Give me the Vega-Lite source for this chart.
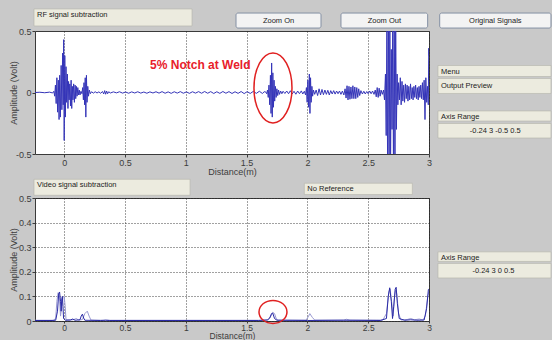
{
  "$schema": "https://vega.github.io/schema/vega-lite/v6.json",
  "background": "#c9c9c9",
  "padding": {"left": 8, "top": 8, "right": 0, "bottom": 0},
  "bounds": "flush",
  "spacing": 44,
  "config": {
    "font": "Liberation Sans",
    "view": {"fill": "white", "stroke": "#3a3a3a", "strokeWidth": 1},
    "axis": {
      "labelFont": "Liberation Sans", "labelFontSize": 9, "labelColor": "#3c3c3c",
      "titleFont": "Liberation Sans", "titleFontSize": 9, "titleFontWeight": "normal", "titleColor": "#3c3c3c",
      "domain": false, "tickColor": "#3c3c3c", "tickSize": 3, "labelPadding": 1,
      "gridColor": "#222222", "gridDash": [1, 2], "gridOpacity": 0.85
    }
  },
  "datasets": {
    "rf": [
      {"x": -0.24, "y": 0}, {"x": -0.2, "y": 0.002}, {"x": -0.16, "y": -0.002}, {"x": -0.12, "y": 0.003}, {"x": -0.095, "y": -0.004}, {"x": -0.085, "y": 0.01},
      {"x": -0.078, "y": -0.03}, {"x": -0.072, "y": 0.06}, {"x": -0.066, "y": -0.09}, {"x": -0.06, "y": 0.12}, {"x": -0.054, "y": -0.16}, {"x": -0.048, "y": 0.1},
      {"x": -0.042, "y": -0.22}, {"x": -0.037, "y": 0.14}, {"x": -0.031, "y": -0.2}, {"x": -0.025, "y": 0.22}, {"x": -0.019, "y": -0.14}, {"x": -0.013, "y": 0.32},
      {"x": -0.008, "y": -0.1}, {"x": -0.004, "y": 0.43}, {"x": 0.0, "y": -0.39}, {"x": 0.005, "y": 0.3}, {"x": 0.01, "y": -0.2}, {"x": 0.015, "y": 0.21},
      {"x": 0.02, "y": -0.08}, {"x": 0.026, "y": 0.15}, {"x": 0.031, "y": -0.13}, {"x": 0.036, "y": 0.09}, {"x": 0.041, "y": -0.06}, {"x": 0.046, "y": 0.07},
      {"x": 0.052, "y": -0.11}, {"x": 0.057, "y": 0.1}, {"x": 0.062, "y": -0.13}, {"x": 0.067, "y": 0.05}, {"x": 0.072, "y": -0.06}, {"x": 0.078, "y": 0.07},
      {"x": 0.084, "y": -0.08}, {"x": 0.09, "y": 0.06}, {"x": 0.095, "y": -0.05}, {"x": 0.1, "y": 0.05}, {"x": 0.106, "y": -0.03}, {"x": 0.112, "y": 0.04},
      {"x": 0.118, "y": -0.02}, {"x": 0.124, "y": 0.02}, {"x": 0.13, "y": -0.02}, {"x": 0.138, "y": 0.01}, {"x": 0.146, "y": -0.01}, {"x": 0.152, "y": 0.04},
      {"x": 0.158, "y": -0.06}, {"x": 0.163, "y": 0.08}, {"x": 0.168, "y": -0.1}, {"x": 0.173, "y": 0.12}, {"x": 0.178, "y": -0.2}, {"x": 0.183, "y": 0.14},
      {"x": 0.188, "y": -0.08}, {"x": 0.194, "y": 0.05}, {"x": 0.2, "y": -0.03}, {"x": 0.207, "y": 0.02}, {"x": 0.215, "y": -0.01}, {"x": 0.225, "y": 0.006},
      {"x": 0.24, "y": -0.005}, {"x": 0.255, "y": 0.006}, {"x": 0.27, "y": -0.004}, {"x": 0.285, "y": 0.005}, {"x": 0.3, "y": -0.006}, {"x": 0.315, "y": 0.008},
      {"x": 0.325, "y": -0.012}, {"x": 0.333, "y": 0.015}, {"x": 0.341, "y": -0.014}, {"x": 0.349, "y": 0.012}, {"x": 0.357, "y": -0.01}, {"x": 0.366, "y": 0.006},
      {"x": 0.38, "y": -0.004}, {"x": 0.405, "y": 0.005}, {"x": 0.43, "y": -0.003}, {"x": 0.455, "y": 0.006}, {"x": 0.48, "y": -0.005}, {"x": 0.505, "y": 0.004},
      {"x": 0.53, "y": -0.006}, {"x": 0.555, "y": 0.005}, {"x": 0.58, "y": -0.004}, {"x": 0.605, "y": 0.006}, {"x": 0.63, "y": -0.005}, {"x": 0.655, "y": 0.004},
      {"x": 0.68, "y": -0.006}, {"x": 0.705, "y": 0.005}, {"x": 0.73, "y": -0.004}, {"x": 0.755, "y": 0.006}, {"x": 0.78, "y": -0.005}, {"x": 0.805, "y": 0.007},
      {"x": 0.83, "y": -0.006}, {"x": 0.855, "y": 0.005}, {"x": 0.88, "y": -0.007}, {"x": 0.905, "y": 0.006}, {"x": 0.93, "y": -0.005}, {"x": 0.955, "y": 0.007},
      {"x": 0.98, "y": -0.006}, {"x": 1.005, "y": 0.005}, {"x": 1.03, "y": -0.007}, {"x": 1.055, "y": 0.006}, {"x": 1.08, "y": -0.005}, {"x": 1.105, "y": 0.007},
      {"x": 1.13, "y": -0.006}, {"x": 1.155, "y": 0.008}, {"x": 1.18, "y": -0.006}, {"x": 1.205, "y": 0.007}, {"x": 1.23, "y": -0.008}, {"x": 1.255, "y": 0.006},
      {"x": 1.28, "y": -0.007}, {"x": 1.305, "y": 0.008}, {"x": 1.33, "y": -0.006}, {"x": 1.355, "y": 0.007}, {"x": 1.38, "y": -0.008}, {"x": 1.405, "y": 0.006},
      {"x": 1.43, "y": -0.007}, {"x": 1.455, "y": 0.008}, {"x": 1.48, "y": -0.009}, {"x": 1.505, "y": 0.007}, {"x": 1.53, "y": -0.008}, {"x": 1.555, "y": 0.009},
      {"x": 1.58, "y": -0.007}, {"x": 1.605, "y": 0.01}, {"x": 1.63, "y": -0.008}, {"x": 1.645, "y": 0.006},
      {"x": 1.655, "y": 0.006}, {"x": 1.665, "y": -0.01}, {"x": 1.672, "y": 0.02}, {"x": 1.678, "y": -0.04}, {"x": 1.684, "y": 0.06}, {"x": 1.69, "y": -0.1},
      {"x": 1.696, "y": 0.14}, {"x": 1.701, "y": -0.17}, {"x": 1.706, "y": 0.24}, {"x": 1.711, "y": -0.2}, {"x": 1.716, "y": 0.16}, {"x": 1.721, "y": -0.12},
      {"x": 1.726, "y": 0.1}, {"x": 1.731, "y": -0.07}, {"x": 1.737, "y": 0.05}, {"x": 1.743, "y": -0.04}, {"x": 1.749, "y": 0.03}, {"x": 1.756, "y": -0.025},
      {"x": 1.763, "y": 0.02}, {"x": 1.771, "y": -0.015}, {"x": 1.78, "y": 0.012}, {"x": 1.79, "y": -0.01}, {"x": 1.8, "y": 0.01}, {"x": 1.815, "y": -0.008},
      {"x": 1.83, "y": 0.012}, {"x": 1.845, "y": -0.01}, {"x": 1.86, "y": 0.014}, {"x": 1.875, "y": -0.012}, {"x": 1.89, "y": 0.01}, {"x": 1.905, "y": -0.014},
      {"x": 1.92, "y": 0.012}, {"x": 1.935, "y": -0.01}, {"x": 1.95, "y": 0.013}, {"x": 1.962, "y": -0.012}, {"x": 1.975, "y": 0.01}, {"x": 1.985, "y": -0.02},
      {"x": 1.992, "y": 0.04}, {"x": 1.998, "y": -0.08}, {"x": 2.004, "y": 0.1}, {"x": 2.01, "y": -0.12}, {"x": 2.016, "y": 0.15}, {"x": 2.021, "y": -0.17},
      {"x": 2.026, "y": 0.12}, {"x": 2.031, "y": -0.08}, {"x": 2.037, "y": 0.05}, {"x": 2.043, "y": -0.03}, {"x": 2.05, "y": 0.02}, {"x": 2.06, "y": -0.015},
      {"x": 2.072, "y": 0.02}, {"x": 2.084, "y": -0.025}, {"x": 2.096, "y": 0.03}, {"x": 2.108, "y": -0.02}, {"x": 2.12, "y": 0.025}, {"x": 2.132, "y": -0.018},
      {"x": 2.144, "y": 0.02}, {"x": 2.156, "y": -0.015}, {"x": 2.168, "y": 0.018}, {"x": 2.18, "y": -0.02}, {"x": 2.192, "y": 0.015}, {"x": 2.204, "y": -0.012},
      {"x": 2.216, "y": 0.015}, {"x": 2.228, "y": -0.013}, {"x": 2.24, "y": 0.012}, {"x": 2.252, "y": -0.01}, {"x": 2.264, "y": 0.012}, {"x": 2.276, "y": -0.015},
      {"x": 2.288, "y": 0.012}, {"x": 2.3, "y": -0.02}, {"x": 2.31, "y": 0.03}, {"x": 2.318, "y": -0.045}, {"x": 2.326, "y": 0.055}, {"x": 2.334, "y": -0.06},
      {"x": 2.342, "y": 0.05}, {"x": 2.35, "y": -0.055}, {"x": 2.358, "y": 0.045}, {"x": 2.366, "y": -0.05}, {"x": 2.374, "y": 0.055}, {"x": 2.382, "y": -0.05},
      {"x": 2.39, "y": 0.045}, {"x": 2.398, "y": -0.05}, {"x": 2.406, "y": 0.04}, {"x": 2.414, "y": -0.04}, {"x": 2.422, "y": 0.03}, {"x": 2.43, "y": -0.025},
      {"x": 2.44, "y": 0.015}, {"x": 2.452, "y": -0.012}, {"x": 2.464, "y": 0.01}, {"x": 2.476, "y": -0.012}, {"x": 2.488, "y": 0.008}, {"x": 2.5, "y": -0.01},
      {"x": 2.512, "y": 0.012}, {"x": 2.524, "y": -0.01}, {"x": 2.536, "y": 0.012}, {"x": 2.548, "y": -0.015}, {"x": 2.558, "y": 0.02}, {"x": 2.566, "y": -0.035},
      {"x": 2.574, "y": 0.04}, {"x": 2.582, "y": -0.04}, {"x": 2.59, "y": 0.035}, {"x": 2.598, "y": -0.03}, {"x": 2.606, "y": 0.02}, {"x": 2.616, "y": -0.015},
      {"x": 2.626, "y": 0.02}, {"x": 2.634, "y": -0.06}, {"x": 2.642, "y": 0.15}, {"x": 2.648, "y": -0.35}, {"x": 2.654, "y": 0.6}, {"x": 2.66, "y": -0.7},
      {"x": 2.666, "y": 0.7}, {"x": 2.672, "y": -0.7}, {"x": 2.678, "y": 0.7}, {"x": 2.684, "y": -0.6}, {"x": 2.69, "y": 0.35}, {"x": 2.696, "y": -0.3},
      {"x": 2.702, "y": 0.6}, {"x": 2.708, "y": -0.7}, {"x": 2.714, "y": 0.7}, {"x": 2.72, "y": -0.7}, {"x": 2.726, "y": 0.6}, {"x": 2.732, "y": -0.3},
      {"x": 2.738, "y": 0.15}, {"x": 2.744, "y": -0.1}, {"x": 2.75, "y": 0.08}, {"x": 2.757, "y": -0.06}, {"x": 2.764, "y": 0.12}, {"x": 2.771, "y": -0.1},
      {"x": 2.778, "y": 0.09}, {"x": 2.785, "y": -0.07}, {"x": 2.792, "y": 0.06}, {"x": 2.799, "y": -0.08}, {"x": 2.806, "y": 0.07}, {"x": 2.813, "y": -0.05},
      {"x": 2.82, "y": 0.06}, {"x": 2.827, "y": -0.07}, {"x": 2.834, "y": 0.05}, {"x": 2.841, "y": -0.06}, {"x": 2.848, "y": 0.07}, {"x": 2.855, "y": -0.05},
      {"x": 2.862, "y": 0.04}, {"x": 2.869, "y": -0.06}, {"x": 2.876, "y": 0.05}, {"x": 2.883, "y": -0.04}, {"x": 2.89, "y": 0.06}, {"x": 2.897, "y": -0.05},
      {"x": 2.904, "y": 0.04}, {"x": 2.911, "y": -0.06}, {"x": 2.918, "y": 0.05}, {"x": 2.925, "y": -0.04}, {"x": 2.932, "y": 0.06}, {"x": 2.939, "y": -0.05},
      {"x": 2.946, "y": 0.08}, {"x": 2.953, "y": -0.06}, {"x": 2.96, "y": 0.1}, {"x": 2.967, "y": -0.22}, {"x": 2.974, "y": 0.12}, {"x": 2.981, "y": -0.08},
      {"x": 2.988, "y": 0.05}, {"x": 2.994, "y": -0.1}, {"x": 2.998, "y": 0.36}, {"x": 3.0, "y": 0.3}
    ],
    "env": [
      {"s": "dark", "x": -0.24, "y": 0.002}, {"s": "dark", "x": -0.1, "y": 0.002}, {"s": "dark", "x": -0.07, "y": 0.003}, {"s": "dark", "x": -0.055, "y": 0.04},
      {"s": "dark", "x": -0.045, "y": 0.11}, {"s": "dark", "x": -0.038, "y": 0.118}, {"s": "dark", "x": -0.03, "y": 0.08}, {"s": "dark", "x": -0.025, "y": 0.04},
      {"s": "dark", "x": -0.02, "y": 0.09}, {"s": "dark", "x": -0.015, "y": 0.1}, {"s": "dark", "x": -0.01, "y": 0.06}, {"s": "dark", "x": -0.005, "y": 0.01},
      {"s": "dark", "x": 0.01, "y": 0.003}, {"s": "dark", "x": 0.05, "y": 0.004}, {"s": "dark", "x": 0.07, "y": 0.008}, {"s": "dark", "x": 0.09, "y": 0.003},
      {"s": "dark", "x": 0.13, "y": 0.005}, {"s": "dark", "x": 0.14, "y": 0.02}, {"s": "dark", "x": 0.15, "y": 0.028}, {"s": "dark", "x": 0.16, "y": 0.012},
      {"s": "dark", "x": 0.17, "y": 0.003}, {"s": "dark", "x": 0.3, "y": 0.002}, {"s": "dark", "x": 0.34, "y": 0.003}, {"s": "dark", "x": 0.37, "y": 0.002},
      {"s": "dark", "x": 1.6, "y": 0.002}, {"s": "dark", "x": 1.67, "y": 0.004}, {"s": "dark", "x": 1.69, "y": 0.012}, {"s": "dark", "x": 1.705, "y": 0.03},
      {"s": "dark", "x": 1.715, "y": 0.032}, {"s": "dark", "x": 1.73, "y": 0.01}, {"s": "dark", "x": 1.75, "y": 0.003}, {"s": "dark", "x": 2.0, "y": 0.002},
      {"s": "dark", "x": 2.3, "y": 0.003}, {"s": "dark", "x": 2.6, "y": 0.002}, {"s": "dark", "x": 2.65, "y": 0.01}, {"s": "dark", "x": 2.665, "y": 0.1},
      {"s": "dark", "x": 2.677, "y": 0.135}, {"s": "dark", "x": 2.69, "y": 0.08}, {"s": "dark", "x": 2.7, "y": 0.01}, {"s": "dark", "x": 2.71, "y": 0.06},
      {"s": "dark", "x": 2.722, "y": 0.13}, {"s": "dark", "x": 2.73, "y": 0.137}, {"s": "dark", "x": 2.74, "y": 0.07}, {"s": "dark", "x": 2.755, "y": 0.01},
      {"s": "dark", "x": 2.8, "y": 0.003}, {"s": "dark", "x": 2.85, "y": 0.005}, {"s": "dark", "x": 2.9, "y": 0.003}, {"s": "dark", "x": 2.96, "y": 0.004},
      {"s": "dark", "x": 2.98, "y": 0.05}, {"s": "dark", "x": 2.995, "y": 0.128}, {"s": "dark", "x": 3.0, "y": 0.13},
      {"s": "light", "x": -0.24, "y": 0.003}, {"s": "light", "x": -0.09, "y": 0.003}, {"s": "light", "x": -0.07, "y": 0.01}, {"s": "light", "x": -0.06, "y": 0.08},
      {"s": "light", "x": -0.05, "y": 0.115}, {"s": "light", "x": -0.04, "y": 0.1}, {"s": "light", "x": -0.03, "y": 0.02}, {"s": "light", "x": -0.02, "y": 0.06},
      {"s": "light", "x": -0.01, "y": 0.095}, {"s": "light", "x": 0.0, "y": 0.1}, {"s": "light", "x": 0.008, "y": 0.06}, {"s": "light", "x": 0.015, "y": 0.005},
      {"s": "light", "x": 0.06, "y": 0.004}, {"s": "light", "x": 0.08, "y": 0.006}, {"s": "light", "x": 0.1, "y": 0.01}, {"s": "light", "x": 0.12, "y": 0.003},
      {"s": "light", "x": 0.15, "y": 0.006}, {"s": "light", "x": 0.17, "y": 0.03}, {"s": "light", "x": 0.19, "y": 0.04}, {"s": "light", "x": 0.205, "y": 0.02},
      {"s": "light", "x": 0.22, "y": 0.004}, {"s": "light", "x": 0.32, "y": 0.003}, {"s": "light", "x": 0.35, "y": 0.004}, {"s": "light", "x": 0.38, "y": 0.003},
      {"s": "light", "x": 1.6, "y": 0.003}, {"s": "light", "x": 1.68, "y": 0.005}, {"s": "light", "x": 1.7, "y": 0.02}, {"s": "light", "x": 1.715, "y": 0.035},
      {"s": "light", "x": 1.73, "y": 0.03}, {"s": "light", "x": 1.745, "y": 0.008}, {"s": "light", "x": 1.76, "y": 0.004}, {"s": "light", "x": 1.99, "y": 0.004},
      {"s": "light", "x": 2.01, "y": 0.02}, {"s": "light", "x": 2.02, "y": 0.03}, {"s": "light", "x": 2.04, "y": 0.015}, {"s": "light", "x": 2.06, "y": 0.004},
      {"s": "light", "x": 2.3, "y": 0.004}, {"s": "light", "x": 2.32, "y": 0.007}, {"s": "light", "x": 2.35, "y": 0.004}, {"s": "light", "x": 2.62, "y": 0.004},
      {"s": "light", "x": 2.65, "y": 0.03}, {"s": "light", "x": 2.67, "y": 0.12}, {"s": "light", "x": 2.68, "y": 0.13}, {"s": "light", "x": 2.69, "y": 0.09},
      {"s": "light", "x": 2.705, "y": 0.02}, {"s": "light", "x": 2.715, "y": 0.09}, {"s": "light", "x": 2.725, "y": 0.125}, {"s": "light", "x": 2.735, "y": 0.11},
      {"s": "light", "x": 2.75, "y": 0.03}, {"s": "light", "x": 2.77, "y": 0.004}, {"s": "light", "x": 2.82, "y": 0.006}, {"s": "light", "x": 2.85, "y": 0.01},
      {"s": "light", "x": 2.88, "y": 0.005}, {"s": "light", "x": 2.92, "y": 0.008}, {"s": "light", "x": 2.95, "y": 0.004}, {"s": "light", "x": 2.97, "y": 0.02},
      {"s": "light", "x": 2.99, "y": 0.1}, {"s": "light", "x": 3.0, "y": 0.12}
    ],
    "gui_top": [
      {"kind": "label", "label": "RF signal subtraction", "x": -0.248, "x2": 1.051, "y": 0.679, "y2": 0.541, "tx": -0.248, "ty": 0.679},
      {"kind": "button", "label": "Zoom On", "x": 1.413, "x2": 2.112, "y": 0.646, "y2": 0.524, "tx": 1.7625, "ty": 0.585},
      {"kind": "button", "label": "Zoom Out", "x": 2.276, "x2": 2.989, "y": 0.646, "y2": 0.524, "tx": 2.6325, "ty": 0.585},
      {"kind": "button", "label": "Original Signals", "x": 3.088, "x2": 4.003, "y": 0.646, "y2": 0.524, "tx": 3.5455, "ty": 0.585},
      {"kind": "label", "label": "Menu", "x": 3.074, "x2": 4.003, "y": 0.2195, "y2": 0.13, "tx": 3.074, "ty": 0.2195},
      {"kind": "drop", "label": "Output Preview", "x": 3.074, "x2": 4.003, "y": 0.114, "y2": -0.008, "tx": 3.074, "ty": 0.053},
      {"kind": "label", "label": "Axis Range", "x": 3.074, "x2": 4.003, "y": -0.15, "y2": -0.232, "tx": 3.074, "ty": -0.15},
      {"kind": "field", "label": "-0.24  3 -0.5 0.5", "x": 3.074, "x2": 4.003, "y": -0.252, "y2": -0.37, "tx": 3.545, "ty": -0.311}
    ],
    "gui_bot": [
      {"kind": "label", "label": "Video signal subtraction", "x": -0.248, "x2": 1.035, "y": 0.576, "y2": 0.511, "tx": -0.248, "ty": 0.576},
      {"kind": "label", "label": "No Reference", "x": 1.975, "x2": 2.863, "y": 0.56, "y2": 0.514, "tx": 1.975, "ty": 0.56},
      {"kind": "label", "label": "Axis Range", "x": 3.074, "x2": 4.003, "y": 0.281, "y2": 0.242, "tx": 3.074, "ty": 0.281},
      {"kind": "field", "label": "-0.24  3 0 0.5", "x": 3.074, "x2": 4.003, "y": 0.234, "y2": 0.175, "tx": 3.53, "ty": 0.2045}
    ],
    "note_top": [{"x": 0.706, "y": 0.224, "label": "5% Notch at Weld"}],
    "ring_top": [{"x": 1.717, "y": 0.037}],
    "ring_bot": [{"x": 1.717, "y": 0.037}]
  },
  "vconcat": [
    {
      "width": 394,
      "height": 123,
      "encoding": {
        "x": {"field": "x", "type": "quantitative", "scale": {"domain": [-0.24, 3], "nice": false, "zero": false},
              "axis": {"values": [0, 0.5, 1, 1.5, 2, 2.5, 3], "format": "~g", "title": "Distance(m)", "grid": true, "labelFlush": false, "titlePadding": 0}},
        "y": {"field": "y", "type": "quantitative", "scale": {"domain": [-0.5, 0.5], "nice": false, "zero": false},
              "axis": {"values": [-0.5, 0, 0.5], "format": "~g", "labelExpr": "replace(datum.label, '\u2212', '-')", "title": "Amplitude (Volt)", "grid": false, "titleX": -17}}
      },
      "layer": [
        {"data": {"name": "rf"}, "mark": {"type": "line", "clip": true, "color": "#3434b8", "strokeWidth": 1}},
        {"data": {"name": "note_top"}, "mark": {"type": "text", "align": "left", "baseline": "middle", "fontSize": 12, "fontWeight": "bold", "color": "#e8202a", "font": "Liberation Sans"},
         "encoding": {"text": {"field": "label"}}},
        {"data": {"name": "ring_top"}, "mark": {"type": "point", "shape": "M0,-1A0.543,1,0,1,1,0,1A0.543,1,0,1,1,0,-1Z", "size": 4900, "filled": false, "stroke": "#e02020", "strokeWidth": 1.5, "opacity": 1}},
        {"data": {"name": "gui_top"}, "transform": [{"filter": "datum.kind != 'button'"}],
         "mark": {"type": "rect", "fill": "#ecebdf", "stroke": "#b4b4aa", "strokeWidth": 0.6},
         "encoding": {"x2": {"field": "x2"}, "y2": {"field": "y2"}}},
        {"data": {"name": "gui_top"}, "transform": [{"filter": "datum.kind == 'button'"}],
         "mark": {"type": "rect", "fill": "#f3f3f3", "stroke": "#8490a4", "strokeWidth": 1, "cornerRadius": 2},
         "encoding": {"x2": {"field": "x2"}, "y2": {"field": "y2"}}},
        {"data": {"name": "gui_top"}, "transform": [{"filter": "datum.kind == 'label'"}],
         "mark": {"type": "text", "align": "left", "baseline": "top", "dx": 3, "dy": 2, "fontSize": 7.5, "color": "#222222"},
         "encoding": {"x": {"field": "tx", "type": "quantitative"}, "y": {"field": "ty", "type": "quantitative"}, "text": {"field": "label"}}},
        {"data": {"name": "gui_top"}, "transform": [{"filter": "datum.kind == 'drop'"}],
         "mark": {"type": "text", "align": "left", "baseline": "middle", "dx": 3, "fontSize": 7.5, "color": "#222222"},
         "encoding": {"x": {"field": "tx", "type": "quantitative"}, "y": {"field": "ty", "type": "quantitative"}, "text": {"field": "label"}}},
        {"data": {"name": "gui_top"}, "transform": [{"filter": "datum.kind == 'button' || datum.kind == 'field'"}],
         "mark": {"type": "text", "align": "center", "baseline": "middle", "fontSize": 7.5, "color": "#222222"},
         "encoding": {"x": {"field": "tx", "type": "quantitative"}, "y": {"field": "ty", "type": "quantitative"}, "text": {"field": "label"}}}
      ]
    },
    {
      "width": 394,
      "height": 123,
      "encoding": {
        "x": {"field": "x", "type": "quantitative", "scale": {"domain": [-0.24, 3], "nice": false, "zero": false},
              "axis": {"values": [0, 0.5, 1, 1.5, 2, 2.5, 3], "format": "~g", "title": "Distance(m)", "grid": true, "labelFlush": false,
                       "tickSize": 2, "labelPadding": 0, "labelFontSize": 8.5, "titleFontSize": 8.5, "titlePadding": 0}},
        "y": {"field": "y", "type": "quantitative", "scale": {"domain": [0, 0.5], "nice": false, "zero": false},
              "axis": {"values": [0, 0.1, 0.2, 0.3, 0.4, 0.5], "format": "~g", "title": "Amplitude (Volt)", "grid": true, "titleX": -17}}
      },
      "layer": [
        {"data": {"name": "env"}, "transform": [{"filter": "datum.s == 'light'"}], "mark": {"type": "line", "clip": true, "color": "#9a9ad2", "strokeWidth": 1}},
        {"data": {"name": "env"}, "transform": [{"filter": "datum.s == 'dark'"}], "mark": {"type": "line", "clip": true, "color": "#2a2aa6", "strokeWidth": 1}},
        {"data": {"name": "ring_bot"}, "mark": {"type": "point", "shape": "M0,-1A1.217,1,0,1,1,0,1A1.217,1,0,1,1,0,-1Z", "size": 529, "filled": false, "stroke": "#e02020", "strokeWidth": 1.5, "opacity": 1}},
        {"data": {"name": "gui_bot"}, "mark": {"type": "rect", "fill": "#ecebdf", "stroke": "#b4b4aa", "strokeWidth": 0.6},
         "encoding": {"x2": {"field": "x2"}, "y2": {"field": "y2"}}},
        {"data": {"name": "gui_bot"}, "transform": [{"filter": "datum.kind == 'label'"}],
         "mark": {"type": "text", "align": "left", "baseline": "top", "dx": 3, "dy": 2, "fontSize": 7.5, "color": "#222222"},
         "encoding": {"x": {"field": "tx", "type": "quantitative"}, "y": {"field": "ty", "type": "quantitative"}, "text": {"field": "label"}}},
        {"data": {"name": "gui_bot"}, "transform": [{"filter": "datum.kind == 'field'"}],
         "mark": {"type": "text", "align": "center", "baseline": "middle", "fontSize": 7.5, "color": "#222222"},
         "encoding": {"x": {"field": "tx", "type": "quantitative"}, "y": {"field": "ty", "type": "quantitative"}, "text": {"field": "label"}}}
      ]
    }
  ]
}
